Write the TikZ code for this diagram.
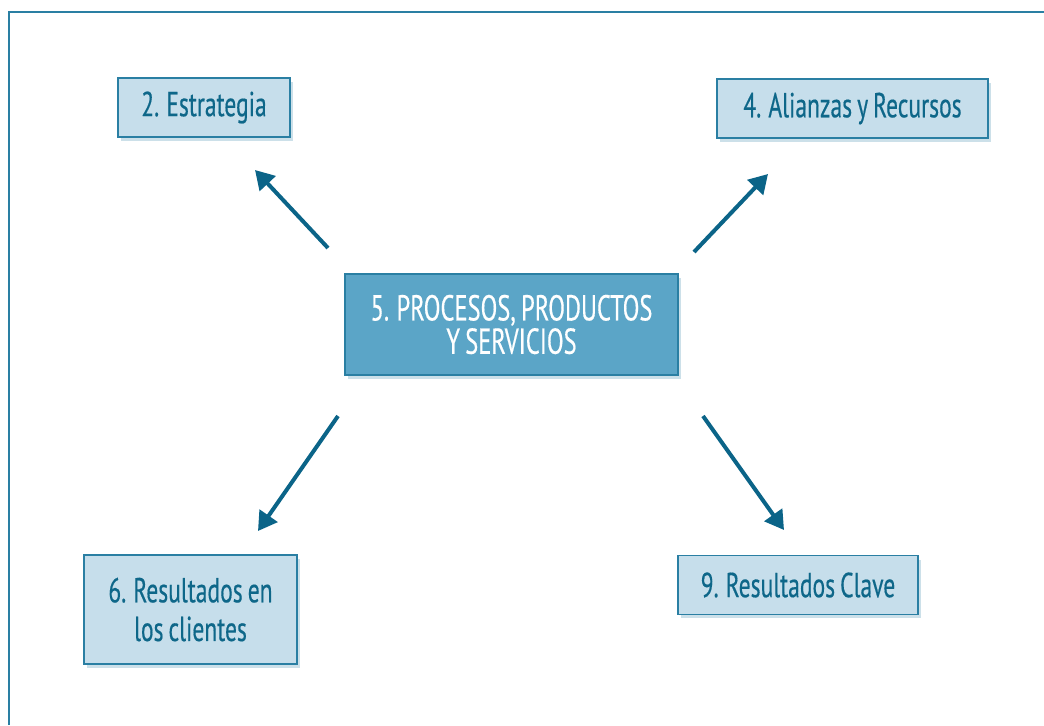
\documentclass[tikz,border=0pt]{standalone}
\usepackage{fontspec}
\setmainfont{PT Sans}[FakeStretch=0.68,FakeBold=0.4,WordSpace=0.8]
\usetikzlibrary{arrows.meta,shadows}

\definecolor{framecol}{HTML}{2A7FA3}
\definecolor{boxfill}{HTML}{C6DEEB}
\definecolor{corefill}{HTML}{5BA5C7}
\definecolor{inkcol}{HTML}{0E6789}
\definecolor{arrowcol}{HTML}{0B6488}

\begin{document}
\begin{tikzpicture}[x=0.75pt,y=-0.75pt,->,>={Triangle[length=14pt,width=16pt]},line width=3pt,
    crit node/.style={rectangle,draw=framecol,line width=1.2pt,fill=boxfill,text=inkcol,align=center,
        font=\fontsize{26}{29}\selectfont,inner sep=0pt,
        drop shadow={shadow xshift=2pt,shadow yshift=-3pt,fill=framecol!60,opacity=0.4}},
    core node/.style={crit node,fill=corefill,text=white,font=\fontsize{27}{25}\selectfont}]

            \useasboundingbox (0,0) rectangle (1044,725);
            \draw[-,framecol,line width=1.1pt] (9,725) -- (9,12) -- (1044,12);

            \node[core node,minimum width=250pt,minimum height=76pt] (5) at (511.5,324.5) {5. PROCESOS, PRODUCTOS\\Y SERVICIOS};
            \node[crit node,minimum width=129pt,minimum height=44pt] (2) at (204,107.5) {2. Estrategia};
            \node[crit node,minimum width=203pt,minimum height=44pt] (4) at (852.5,108.5) {4. Alianzas y Recursos};
            \node[crit node,minimum width=160pt,minimum height=82pt] (6) at (190.5,609.5) {6. Resultados en\\los clientes};
            \node[crit node,minimum width=180pt,minimum height=44pt] (9) at (798,585) {9. Resultados Clave};

            % arrow ends
            \coordinate (5a) at (328,248);  \coordinate (2a) at (255,170);
            \coordinate (5b) at (694,252);  \coordinate (4a) at (768,174);
            \coordinate (5c) at (338,416);  \coordinate (6a) at (258,531);
            \coordinate (5d) at (703,416);  \coordinate (9a) at (784,530);

            \draw[arrowcol] (5a) to (2a);
            \draw[arrowcol] (5b) to (4a);
            \draw[arrowcol] (5c) to (6a);
            \draw[arrowcol] (5d) to (9a);

            ;
        \end{tikzpicture}
\end{document}
